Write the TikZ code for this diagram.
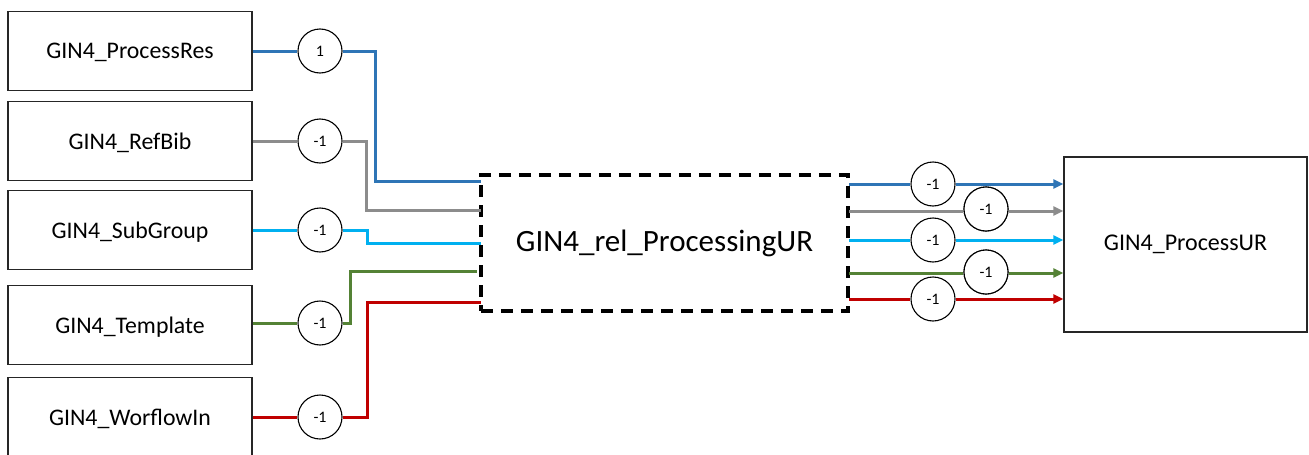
\documentclass[tikz,border=0pt]{standalone}
\usepackage{fontspec}
\setmainfont{Carlito}
\usetikzlibrary{arrows.meta,calc}
\definecolor{cblue}{HTML}{2E75B6}
\definecolor{cgray}{HTML}{8C8C8C}
\definecolor{ccyan}{HTML}{00B0F0}
\definecolor{cgreen}{HTML}{548235}
\definecolor{cred}{HTML}{C00000}
\tikzset{
  srcbox/.style={draw=black!85, line width=1.3pt, minimum width=244pt, minimum height=79pt, font=\fontsize{23.8}{28}\selectfont, inner sep=0pt, text depth=0pt},
  wcirc/.style={draw=black, line width=1.1pt, circle, fill=white, minimum size=44pt, inner sep=0pt, font=\fontsize{16}{18}\selectfont},
  wire/.style={line width=3pt},
  arr/.style={wire, -{Triangle[length=10pt,width=9pt]}},
  relbox/.style={draw=black, line width=3.5pt, dash pattern=on 12pt off 8pt, minimum width=367pt, minimum height=136pt, font=\fontsize{31}{36}\selectfont, inner sep=0pt},
  tgtbox/.style={draw=black!85, line width=1.3pt, minimum width=243pt, minimum height=175pt, font=\fontsize{24}{28}\selectfont, inner sep=0pt}
}
\begin{document}
\begin{tikzpicture}[x=1pt,y=-1pt]
\useasboundingbox (0,0) rectangle (1309,455);
% source boxes
\node[srcbox] (b1) at (130,51) {GIN4\_ProcessRes};
\node[srcbox] (b2) at (130,141) {GIN4\_RefBib};
\node[srcbox] (b3) at (130,230) {GIN4\_SubGroup};
\node[srcbox] (b4) at (130,325) {GIN4\_Template};
\node[srcbox] (b5) at (130,417) {GIN4\_WorflowIn};
% weight circles (left)
\node[wcirc] (c1) at (320,51) {1};
\node[wcirc] (c2) at (320,141) {-1};
\node[wcirc] (c3) at (320,230) {-1};
\node[wcirc] (c4) at (320,323) {-1};
\node[wcirc] (c5) at (320,417) {-1};
% relation box
\node[relbox] (m) at (664.5,243) {GIN4\_rel\_ProcessingUR};
% target box
\node[tgtbox] (t) at (1185.5,244.5) {GIN4\_ProcessUR};
% entry points on relation box (left)
\coordinate (m1) at (481,181);
\coordinate (m2) at (481,210);
\coordinate (m3) at (481,243);
\coordinate (m4) at (477,271);
\coordinate (m5) at (481,302);
% left wires
\draw[wire,cblue] (b1.east) -- (c1.west);
\draw[wire,cblue] (c1.east) -- (375,51) |- (m1);
\draw[wire,cgray] (b2.east) -- (c2.west);
\draw[wire,cgray] (c2.east) -- (366,141) |- (m2);
\draw[wire,ccyan] (b3.east) -- (c3.west);
\draw[wire,ccyan] (c3.east) -- (367,230) |- (m3);
\draw[wire,cgreen] (b4.east |- c4) -- (c4.west);
\draw[wire,cgreen] (c4.east) -- (350,323) |- (m4);
\draw[wire,cred] (b5.east) -- (c5.west);
\draw[wire,cred] (c5.east) -- (367,417) |- (m5);
% right side coordinates
\coordinate (o1) at (849,184);
\coordinate (o2) at (849,211);
\coordinate (o3) at (849,240);
\coordinate (o4) at (849,273);
\coordinate (o5) at (849,299);
\node[wcirc] (d1) at (933,184) {-1};
\node[wcirc] (d2) at (986,209) {-1};
\node[wcirc] (d3) at (933,240) {-1};
\node[wcirc] (d4) at (986,272) {-1};
\node[wcirc] (d5) at (933,299) {-1};
\draw[wire,cblue] (o1) -- (d1.west);
\draw[arr,cblue] (d1.east) -- (t.west |- d1);
\draw[wire,cgray] (o2) -- (d2.west |- o2);
\draw[arr,cgray] (d2.east |- o2) -- (t.west |- o2);
\draw[wire,ccyan] (o3) -- (d3.west);
\draw[arr,ccyan] (d3.east) -- (t.west |- d3);
\draw[wire,cgreen] (o4) -- (d4.west |- o4);
\draw[arr,cgreen] (d4.east |- o4) -- (t.west |- o4);
\draw[wire,cred] (o5) -- (d5.west);
\draw[arr,cred] (d5.east) -- (t.west |- d5);
% redraw right circles on top
\node[wcirc] at (d2) {-1};
\node[wcirc] at (d4) {-1};
\end{tikzpicture}
\end{document}
